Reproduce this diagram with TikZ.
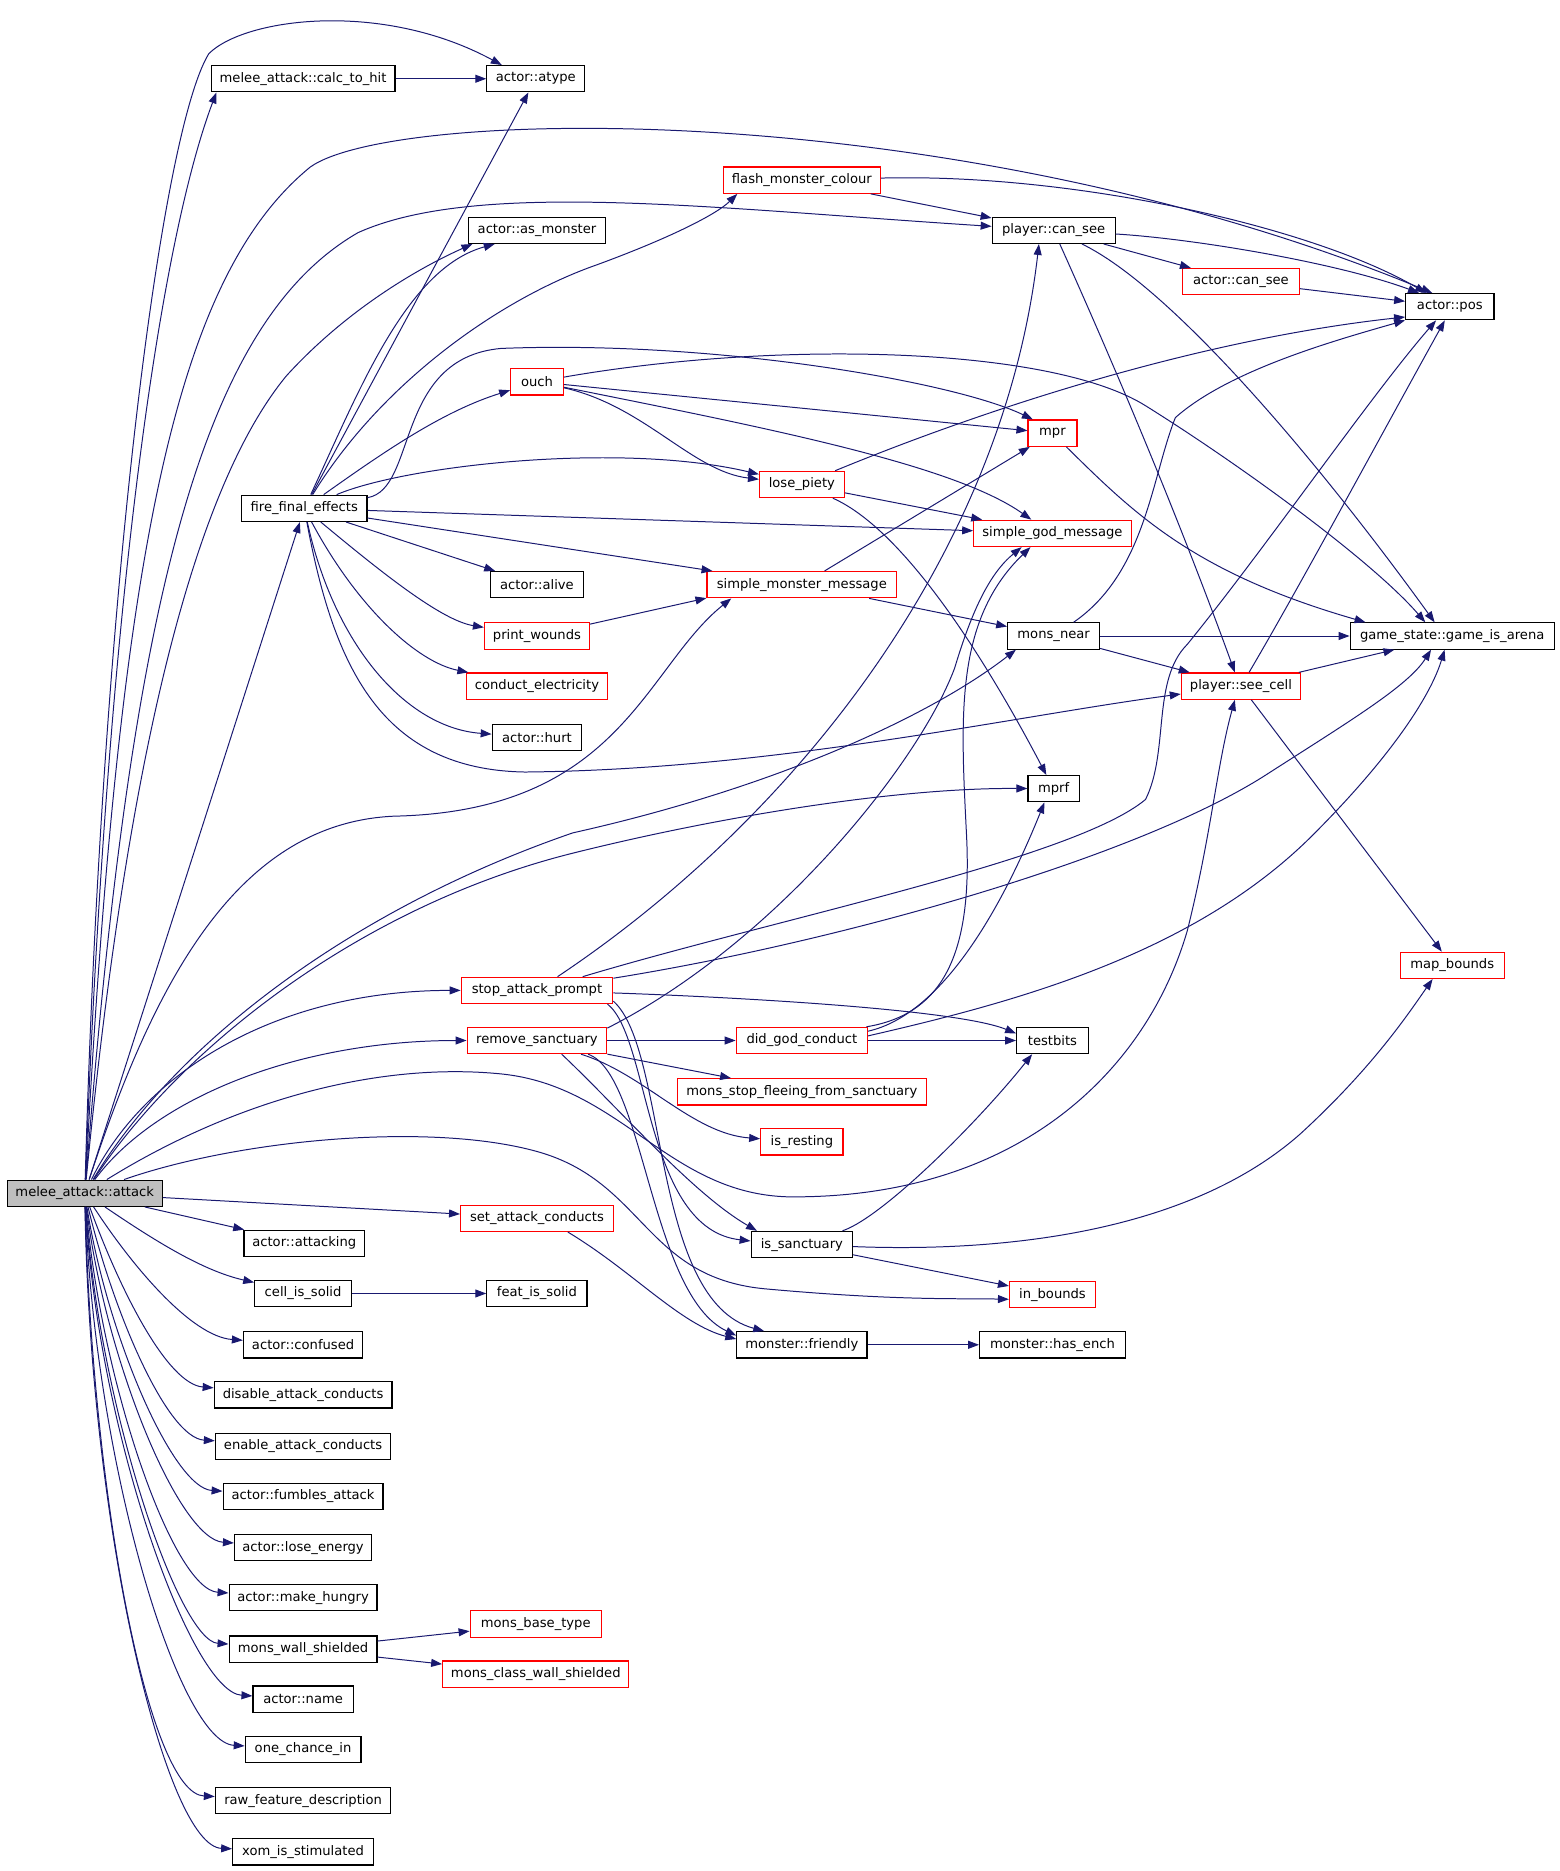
\documentclass[tikz,border=0pt]{standalone}
\usepackage{fontspec}
\newfontfamily\dxfont{DejaVu Sans}
\usetikzlibrary{arrows.meta}
\definecolor{edgeblue}{RGB}{25,25,112}
\definecolor{rootgray}{RGB}{191,191,191}

\begin{document}
\begin{tikzpicture}[x=0.6pt, y=-0.6pt,
    fnnode/.style={draw=black, line width=0.6pt, fill=white, minimum height=13.2pt, inner xsep=0pt, inner ysep=0pt, font=\dxfont\fontsize{6.6pt}{8pt}\selectfont},
    rednode/.style={fnnode, draw=red},
    rootnode/.style={fnnode, fill=rootgray},
    bw/.style={minimum width=#1*0.6pt},
    call/.style={->, >={Triangle[length=5.5pt,width=4pt]}, color=edgeblue, line width=0.5pt}
    ]
        \useasboundingbox (0,0) rectangle (1307,1568);

        %Nodes
        \node[rootnode, bw=130] (attack)      at (71,1000)  {melee\_attack::attack};
        \node[fnnode, bw=154]   (calchit)     at (254,66)   {melee\_attack::calc\_to\_hit};
        \node[fnnode, bw=82]    (atype)       at (449,66)   {actor::atype};
        \node[rednode, bw=132]  (flash)       at (672,151)  {flash\_monster\_colour};
        \node[fnnode, bw=115]   (asmonster)   at (450,193)  {actor::as\_monster};
        \node[fnnode, bw=103]   (pcansee)     at (883,193)  {player::can\_see};
        \node[rednode, bw=98]   (acansee)     at (1040,236) {actor::can\_see};
        \node[fnnode, bw=74]    (pos)         at (1215,257) {actor::pos};
        \node[rednode, bw=44]   (ouch)        at (450,320)  {ouch};
        \node[rednode, bw=41]   (mpr)         at (882,363)  {mpr};
        \node[rednode, bw=71]   (losepiety)   at (672,406)  {lose\_piety};
        \node[fnnode, bw=105]   (finaleff)    at (255,426)  {fire\_final\_effects};
        \node[rednode, bw=132]  (godmsg)      at (882,447)  {simple\_god\_message};
        \node[fnnode, bw=78]    (alive)       at (450,490)  {actor::alive};
        \node[rednode, bw=159]  (monmsg)      at (672,490)  {simple\_monster\_message};
        \node[rednode, bw=88]   (wounds)      at (450,533)  {print\_wounds};
        \node[fnnode, bw=77]    (monsnear)    at (883,533)  {mons\_near};
        \node[fnnode, bw=171]   (arena)       at (1217,533) {game\_state::game\_is\_arena};
        \node[rednode, bw=118]  (conduct)     at (450,575)  {conduct\_electricity};
        \node[rednode, bw=100]  (seecell)     at (1040,575) {player::see\_cell};
        \node[fnnode, bw=75]    (hurt)        at (450,618)  {actor::hurt};
        \node[fnnode, bw=43]    (mprf)        at (883,661)  {mprf};
        \node[rednode, bw=87]   (mapbounds)   at (1217,809) {map\_bounds};
        \node[rednode, bw=127]  (prompt)      at (450,830)  {stop\_attack\_prompt};
        \node[rednode, bw=117]  (removesanct) at (450,872)  {remove\_sanctuary};
        \node[rednode, bw=110]  (godconduct)  at (672,872)  {did\_god\_conduct};
        \node[fnnode, bw=60]    (testbits)    at (882,872)  {testbits};
        \node[rednode, bw=209]  (stopflee)    at (672,915)  {mons\_stop\_fleeing\_from\_sanctuary};
        \node[rednode, bw=69]   (resting)     at (672,957)  {is\_resting};
        \node[rednode, bw=128]  (setconducts) at (450,1021) {set\_attack\_conducts};
        \node[fnnode, bw=85]    (issanct)     at (672,1043) {is\_sanctuary};
        \node[fnnode, bw=101]   (attacking)   at (255,1042) {actor::attacking};
        \node[rednode, bw=72]   (inbounds)    at (882,1085) {in\_bounds};
        \node[fnnode, bw=81]    (cellsolid)   at (254,1084) {cell\_is\_solid};
        \node[fnnode, bw=84]    (featsolid)   at (450,1084) {feat\_is\_solid};
        \node[fnnode, bw=100]   (confused)    at (254,1127) {actor::confused};
        \node[fnnode, bw=109]   (friendly)    at (672,1127) {monster::friendly};
        \node[fnnode, bw=122]   (hasench)     at (882,1127) {monster::has\_ench};
        \node[fnnode, bw=149]   (disable)     at (254,1169) {disable\_attack\_conducts};
        \node[fnnode, bw=147]   (enable)      at (254,1212) {enable\_attack\_conducts};
        \node[fnnode, bw=134]   (fumbles)     at (254,1254) {actor::fumbles\_attack};
        \node[fnnode, bw=115]   (loseenergy)  at (254,1297) {actor::lose\_energy};
        \node[fnnode, bw=124]   (hungry)      at (254,1339) {actor::make\_hungry};
        \node[rednode, bw=110]  (basetype)    at (449,1361) {mons\_base\_type};
        \node[fnnode, bw=124]   (wallshield)  at (254,1382) {mons\_wall\_shielded};
        \node[rednode, bw=156]  (classwall)   at (449,1403) {mons\_class\_wall\_shielded};
        \node[fnnode, bw=84]    (name)        at (254,1424) {actor::name};
        \node[fnnode, bw=97]    (onechance)   at (254,1466) {one\_chance\_in};
        \node[fnnode, bw=147]   (rawfeat)     at (254,1509) {raw\_feature\_description};
        \node[fnnode, bw=118]   (xom)         at (254,1552) {xom\_is\_stimulated};

        %Lines from melee_attack::attack
        \draw[call] (attack.88) .. controls (85,500) and (135,110) .. (175,45) .. controls (205,15) and (320,0) .. (atype.158);
        \draw[call] (attack.87) .. controls (90,500) and (135,200) .. (calchit.189);
        \draw[call] (attack.86) .. controls (100,450) and (150,230) .. (260,140) .. controls (330,90) and (800,80) .. (pos.142);
        \draw[call] (attack.85) .. controls (110,500) and (170,270) .. (300,195) .. controls (400,150) and (600,175) .. (pcansee);
        \draw[call] (attack.84) .. controls (110,600) and (170,400) .. (240,315) .. controls (290,260) and (350,225) .. (asmonster.192);
        \draw[call] (attack) -- (finaleff);
        \draw[call] (attack) .. controls (130,820) and (200,690) .. (330,684) .. controls (520,680) and (540,560) .. (monmsg.191);
        \draw[call] (attack) .. controls (150,870) and (300,760) .. (480,698) .. controls (650,660) and (780,600) .. (monsnear.200);
        \draw[call] (attack) .. controls (150,880) and (300,760) .. (480,715) .. controls (600,685) and (750,660) .. (mprf);
        \draw[call] (attack) .. controls (120,900) and (230,830) .. (prompt);
        \draw[call] (attack) .. controls (130,920) and (250,872) .. (removesanct);
        \draw[call] (attack) .. controls (200,920) and (320,890) .. (420,900) .. controls (520,910) and (560,1000) .. (660,1003)
            .. controls (850,1005) and (960,900) .. (995,780) .. controls (1015,700) and (1020,640) .. (seecell.246);
        \draw[call] (attack) .. controls (200,955) and (360,940) .. (450,965) .. controls (540,990) and (540,1070) .. (640,1080)
            .. controls (750,1090) and (800,1088) .. (inbounds.186);
        \draw[call] (attack) -- (setconducts);
        \draw[call] (attack) -- (attacking);
        \draw[call] (attack) .. controls (130,1040) and (170,1065) .. (cellsolid);
        \draw[call] (attack) .. controls (110,1060) and (160,1120) .. (confused);
        \draw[call] (attack) .. controls (100,1080) and (140,1160) .. (disable);
        \draw[call] (attack) .. controls (95,1100) and (140,1205) .. (enable);
        \draw[call] (attack) .. controls (90,1120) and (145,1247) .. (fumbles);
        \draw[call] (attack) .. controls (88,1140) and (150,1290) .. (loseenergy);
        \draw[call] (attack) .. controls (85,1160) and (145,1332) .. (hungry);
        \draw[call] (attack) .. controls (83,1180) and (150,1375) .. (wallshield);
        \draw[call] (attack) .. controls (82,1200) and (160,1418) .. (name);
        \draw[call] (attack) .. controls (80,1230) and (150,1460) .. (onechance);
        \draw[call] (attack) .. controls (78,1260) and (125,1503) .. (rawfeat);
        \draw[call] (attack) .. controls (76,1290) and (140,1547) .. (xom);
        \draw[call] (calchit) -- (atype);

        %Lines from fire_final_effects
        \draw[call] (finaleff) -- (atype);
        \draw[call] (finaleff) .. controls (300,330) and (340,225) .. (asmonster.198);
        \draw[call] (finaleff) .. controls (320,320) and (420,250) .. (500,222) .. controls (560,200) and (600,180) .. (flash.192);
        \draw[call] (finaleff) .. controls (320,380) and (370,345) .. (ouch);
        \draw[call] (finaleff) .. controls (350,410) and (330,300) .. (420,292) .. controls (600,285) and (800,320) .. (mpr.145);
        \draw[call] (finaleff) .. controls (340,390) and (520,370) .. (losepiety);
        \draw[call] (finaleff) -- (godmsg);
        \draw[call] (finaleff) -- (monmsg);
        \draw[call] (finaleff) -- (alive);
        \draw[call] (finaleff) .. controls (320,480) and (370,520) .. (wounds);
        \draw[call] (finaleff) .. controls (300,510) and (350,555) .. (conduct);
        \draw[call] (finaleff) .. controls (280,540) and (340,610) .. (hurt);
        \draw[call] (finaleff) .. controls (280,560) and (320,645) .. (440,647) .. controls (650,645) and (850,600) .. (seecell);

        %Lines in the upper part
        \draw[call] (flash) -- (pcansee);
        \draw[call] (flash) .. controls (900,145) and (1100,190) .. (pos.150);
        \draw[call] (pcansee) -- (acansee);
        \draw[call] (pcansee) .. controls (1000,200) and (1120,220) .. (pos.156);
        \draw[call] (pcansee) .. controls (940,320) and (990,440) .. (seecell.114);
        \draw[call] (pcansee) .. controls (980,240) and (1100,380) .. (arena.142);
        \draw[call] (acansee) -- (pos);
        \draw[call] (ouch) -- (mpr);
        \draw[call] (ouch) .. controls (540,340) and (580,395) .. (losepiety);
        \draw[call] (ouch) .. controls (650,360) and (800,390) .. (godmsg.147);
        \draw[call] (ouch) .. controls (650,285) and (880,290) .. (960,340) .. controls (1040,390) and (1150,470) .. (arena.153);
        \draw[call] (mpr) .. controls (950,430) and (1000,480) .. (arena.171);
        \draw[call] (losepiety) .. controls (820,345) and (1000,285) .. (pos.193);
        \draw[call] (losepiety) -- (godmsg);
        \draw[call] (losepiety) .. controls (760,445) and (830,560) .. (mprf.118);
        \draw[call] (monmsg) -- (mpr);
        \draw[call] (monmsg) -- (monsnear);
        \draw[call] (wounds) -- (monmsg.188);
        \draw[call] (monsnear) -- (arena);
        \draw[call] (monsnear) -- (seecell);
        \draw[call] (monsnear) .. controls (960,480) and (965,400) .. (985,350) .. controls (1030,310) and (1120,285) .. (pos.197);
        \draw[call] (seecell) -- (arena);
        \draw[call] (seecell) .. controls (1090,490) and (1160,360) .. (pos.250);
        \draw[call] (seecell) -- (mapbounds);

        %Lines in the lower part
        \draw[call] (prompt) .. controls (660,690) and (840,470) .. (pcansee.223);
        \draw[call] (prompt) .. controls (650,770) and (900,720) .. (960,670) .. controls (980,630) and (965,570) .. (995,540)
            .. controls (1060,460) and (1150,330) .. (pos.225);
        \draw[call] (prompt) .. controls (700,790) and (950,720) .. (1060,650) .. controls (1130,605) and (1180,575) .. (arena.213);
        \draw[call] (prompt) .. controls (600,835) and (800,845) .. (testbits.169);
        \draw[call] (prompt.-11) .. controls (545,870) and (540,1030) .. (issanct.176);
        \draw[call] (prompt.-8) .. controls (560,880) and (545,1090) .. (friendly.160);
        \draw[call] (removesanct) -- (godconduct);
        \draw[call] (removesanct) -- (stopflee);
        \draw[call] (removesanct) .. controls (540,900) and (580,950) .. (resting);
        \draw[call] (removesanct.10) .. controls (650,790) and (770,640) .. (800,560) .. controls (815,510) and (830,480) .. (godmsg.204);
        \draw[call] (removesanct.-29) .. controls (520,930) and (580,1000) .. (issanct.163);
        \draw[call] (removesanct.-15) .. controls (540,900) and (545,1085) .. (friendly.172);
        \draw[call] (godconduct) -- (testbits);
        \draw[call] (godconduct.12) .. controls (790,850) and (815,800) .. (810,700) .. controls (805,600) and (800,520) .. (godmsg.212);
        \draw[call] (godconduct.8) .. controls (790,850) and (840,760) .. (mprf.236);
        \draw[call] (godconduct.4) .. controls (850,840) and (1000,800) .. (1100,700) .. controls (1170,630) and (1200,580) .. (arena.241);
        \draw[call] (issanct) .. controls (740,1020) and (820,940) .. (testbits.214);
        \draw[call] (issanct) .. controls (850,1050) and (1000,1030) .. (1090,950) .. controls (1150,895) and (1180,850) .. (mapbounds.215);
        \draw[call] (issanct) -- (inbounds);
        \draw[call] (setconducts.-24) .. controls (530,1065) and (570,1110) .. (friendly.175);
        \draw[call] (friendly) -- (hasench);
        \draw[call] (cellsolid) -- (featsolid);
        \draw[call] (wallshield) -- (basetype);
        \draw[call] (wallshield) -- (classwall);
    \end{tikzpicture}
\end{document}
